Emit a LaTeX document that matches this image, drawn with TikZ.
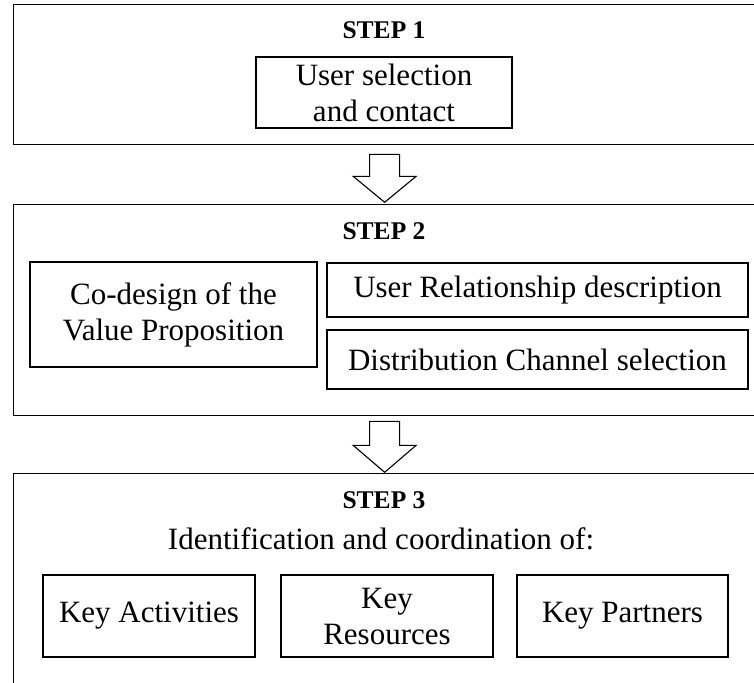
\documentclass[tikz,border=0pt]{standalone}
\usepackage{fontspec}
\setmainfont{Liberation Serif}
\usetikzlibrary{calc}
\begin{document}
\begin{tikzpicture}[x=1pt,y=-1pt,
  frame/.style={draw, line width=1.3pt, anchor=north west, inner sep=0pt},
  box/.style={draw, line width=1.3pt, align=center, inner sep=0pt,
    font=\fontsize{31}{36}\selectfont},
  head/.style={anchor=base, inner sep=0pt, font=\fontsize{25.5}{30}\selectfont\bfseries},
  plain/.style={anchor=base, inner sep=0pt, font=\fontsize{31}{36}\selectfont},
  flow/.style={draw, line width=1.1pt, fill=white, line join=miter}
]
\useasboundingbox (0,0) rectangle (754,682);
\begin{scope}
  \clip (0,0) rectangle (754,682);
  % the three stage frames (right and bottom edges run past the page)
  \node[frame, minimum width=742, minimum height=140] (s1) at (13,4) {};
  \node[frame, minimum width=742, minimum height=211] (s2) at (13,204) {};
  \node[frame, minimum width=742, minimum height=240] (s3) at (13,473) {};
\end{scope}

% stage 1
\node[head] (h1) at (384,39) {STEP 1};
\node[box, minimum width=256, minimum height=71] (sel) at (384,92.5)
  {User selection\\and contact};

% stage 2
\node[head] (h2) at (384,239) {STEP 2};
\node[box, minimum width=287, minimum height=105] (vp) at (173.5,314.5)
  {Co-design of the\\Value Proposition};
\node[box, minimum width=421, minimum height=54] (rel) at (537.5,290)
  {User Relationship description};
\node[box, minimum width=421, minimum height=59] (chan) at (537.5,359.5)
  {Distribution Channel selection};

% stage 3
\node[head] (h3) at (384,508) {STEP 3};
\node[plain] (idc) at (381,549) {Identification and coordination of:};
\node[box, minimum width=212, minimum height=82] (act) at (149,616)
  {Key Activities};
\node[box, minimum width=212, minimum height=82] (res) at (387,616)
  {Key\\Resources};
\node[box, minimum width=211, minimum height=82] (par) at (622.5,616)
  {Key Partners};

% hollow block arrows between the stages
\draw[flow] ($(s1.south)+(-15,9)$) -- ($(s1.south)+(15,9)$)
  -- ($(s1.south)+(15,31)$) -- ($(s1.south)+(31.5,31)$)
  -- ($(s1.south)+(0,57)$) -- ($(s1.south)+(-31.5,31)$)
  -- ($(s1.south)+(-15,31)$) -- cycle;
\draw[flow] ($(s2.south)+(-15,5)$) -- ($(s2.south)+(15,5)$)
  -- ($(s2.south)+(15,29)$) -- ($(s2.south)+(31.5,29)$)
  -- ($(s2.south)+(0,56)$) -- ($(s2.south)+(-31.5,29)$)
  -- ($(s2.south)+(-15,29)$) -- cycle;
\end{tikzpicture}
\end{document}
